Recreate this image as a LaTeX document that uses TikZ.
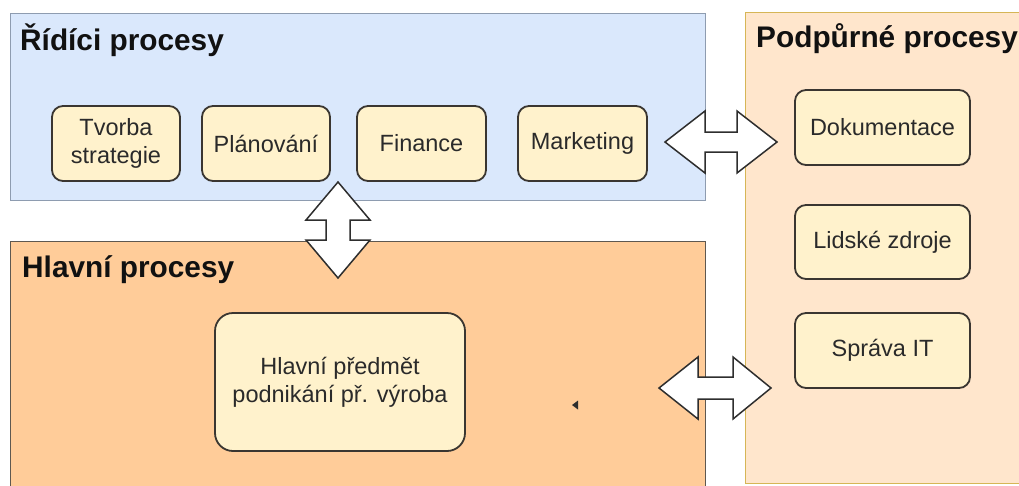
\documentclass[tikz,border=0pt]{standalone}
\usepackage{fontspec}
\setmainfont{Liberation Sans}

\definecolor{ctrlfill}{HTML}{DAE8FC}
\definecolor{ctrlline}{HTML}{8E9CB0}
\definecolor{mainfill}{HTML}{FFCC99}
\definecolor{mainline}{HTML}{5E5850}
\definecolor{suppfill}{HTML}{FFE6CC}
\definecolor{suppline}{HTML}{D6B656}
\definecolor{procfill}{HTML}{FFF2CC}
\definecolor{procline}{HTML}{3A3631}
\definecolor{txt}{HTML}{2A2A2A}
\definecolor{titletxt}{HTML}{111111}
\definecolor{arrowline}{HTML}{2E2E2E}

\begin{document}
\begin{tikzpicture}[x=1pt,y=-1pt,
  area/.style={draw, line width=1.2pt, inner sep=0pt, anchor=north west},
  proc/.style={draw=procline, fill=procfill, rounded corners=11pt,
    line width=1.8pt, align=center, inner sep=0pt, text=txt,
    font=\fontsize{23.5}{28}\selectfont},
  title/.style={anchor=base west, inner sep=0pt, text=titletxt,
    font=\fontsize{29.8}{34}\selectfont\bfseries},
  blockarrow/.style={draw=arrowline, fill=white, line width=1.5pt, line join=miter}]

\useasboundingbox (0,0) rectangle (1019,485);
\clip (0,0) rectangle (1019,485);
\fill[white] (0,0) rectangle (1019,485);

% process areas
\node[area, draw=ctrlline, fill=ctrlfill, minimum width=695pt, minimum height=187pt] (ctrl) at (10,13) {};
\node[area, draw=mainline, fill=mainfill, minimum width=695pt, minimum height=260pt] (main) at (10,241) {};
\node[area, draw=suppline, fill=suppfill, minimum width=290pt, minimum height=471pt] (supp) at (745,12) {};

% area titles
\node[title] (ctrltitle) at (20,50) {Řídíci procesy};
\node[title] (maintitle) at (22,277) {Hlavní procesy};
\node[title] (supptitle) at (756,47) {Podpůrné procesy};

% management processes
\node[proc, minimum width=128pt, minimum height=75pt] (strat) at (116,143.5) {Tvorba\\strategie};
\node[proc, minimum width=128pt, minimum height=75pt] (plan) at (266,143.5) {Plánování};
\node[proc, minimum width=129pt, minimum height=75pt] (fin) at (421.5,143.5) {Finance};
\node[proc, minimum width=129pt, minimum height=75pt] (mkt) at (582.5,143.5) {Marketing};

% support processes
\node[proc, minimum width=175pt, minimum height=75pt] (doc) at (882.5,127.5) {Dokumentace};
\node[proc, minimum width=175pt, minimum height=74pt] (hr) at (882.5,242) {Lidské zdroje};
\node[proc, minimum width=175pt, minimum height=75pt] (it) at (882.5,350.5) {Správa IT};

% core process
\node[proc, minimum width=250pt, minimum height=138pt, rounded corners=18pt] (core) at (340,382)
  {Hlavní předmět\\podnikání př. výroba};

% block arrows between the areas
\draw[blockarrow] (338,182) -- (370,220) -- (350,220) -- (350,240) -- (370,240)
  -- (338,278) -- (306,240) -- (326,240) -- (326,220) -- (306,220) -- cycle;
\draw[blockarrow] (665,142) -- (705,111) -- (705,132) -- (737,132) -- (737,111)
  -- (777,142) -- (737,173) -- (737,152) -- (705,152) -- (705,173) -- cycle;
\draw[blockarrow] (659,388) -- (698,357) -- (698,377) -- (733,377) -- (733,357)
  -- (771,388) -- (733,419) -- (733,399) -- (698,399) -- (698,419) -- cycle;

% small marker
\fill[arrowline] (572,405) -- (578,400.5) -- (578,409.5) -- cycle;

\end{tikzpicture}
\end{document}
